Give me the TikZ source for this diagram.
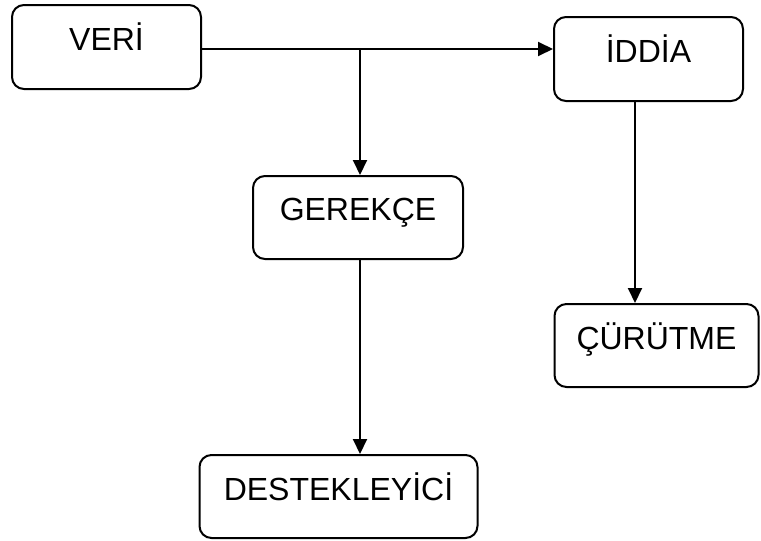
\documentclass[tikz,border=0pt]{standalone}
\usepackage{fontspec}
\setmainfont{Liberation Sans}
\usetikzlibrary{arrows.meta}
\begin{document}
\begin{tikzpicture}[x=1pt,y=-1pt,
  box/.style={draw=black,line width=2pt,rounded corners=12pt,rectangle,inner sep=0pt},
  lbl/.style={anchor=base,inner sep=0pt,font=\fontsize{32}{36}\selectfont},
  conn/.style={line width=2pt,-{Triangle[length=15pt,width=14pt]}},
  plain/.style={line width=2pt}]
\useasboundingbox (0,0) rectangle (761,541);
\node[box,minimum width=189pt,minimum height=84pt] (veri) at (106.5,47) {};
\node[box,minimum width=189pt,minimum height=84pt] (iddia) at (648.5,59) {};
\node[box,minimum width=210pt,minimum height=83pt] (gerekce) at (358,217.5) {};
\node[box,minimum width=204pt,minimum height=83pt] (curutme) at (656.5,345.5) {};
\node[box,minimum width=278pt,minimum height=83pt] (destek) at (338.5,496.5) {};
\node[lbl] (tveri) at ([yshift=-46pt]veri.north) {VERİ};
\node[lbl] (tiddia) at ([yshift=-46pt]iddia.north) {İDDİA};
\node[lbl] (tgerekce) at ([yshift=-45pt]gerekce.north) {GEREKÇE};
\node[lbl] (tcurutme) at ([yshift=-46pt]curutme.north) {ÇÜRÜTME};
\node[lbl] (tdestek) at ([yshift=-46pt]destek.north) {DESTEKLEYİCİ};
\coordinate (j) at (360,49);
\coordinate (k) at (635,0);
\draw[conn] (veri.east |- j) -- (iddia.west |- j);
\draw[conn] (j) -- (j |- gerekce.north);
\draw[conn] (j |- gerekce.south) -- (j |- destek.north);
\draw[conn] (k |- iddia.south) -- (k |- curutme.north);
\end{tikzpicture}
\end{document}
